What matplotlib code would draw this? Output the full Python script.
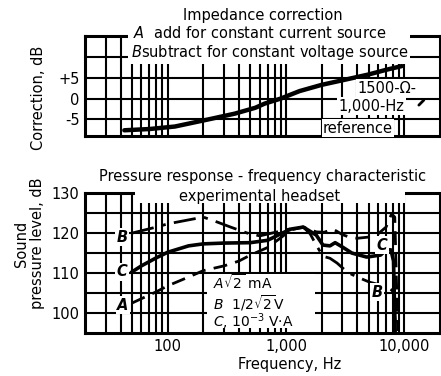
"""
Headset chart: impedance correction (top) and
pressure response vs frequency (bottom).
"""

import matplotlib
matplotlib.use("Agg")
import matplotlib.pyplot as plt
from matplotlib.patches import Rectangle


# ── DATA ─────────────────────────────────────────────────────
# impedance correction, dB (1500 ohm, 1000 Hz reference)
corr_freq = [43, 70, 115, 220, 370, 550, 660, 900, 1300, 2000, 3000, 5000, 7000, 9500]
corr_db = [-7.6, -7.3, -6.7, -5.0, -3.6, -2.2, -1.2, 0.0, 1.8, 3.3, 4.4, 5.8, 6.9, 7.8]

# A: constant current sqrt(2) mA (dashed)
a_freq = [50, 80, 100, 150, 200, 300, 400, 500, 700, 900, 1100, 1400, 1800, 2100,
          2500, 3000, 3500, 4000, 5000, 6000, 7000, 7800, 8300, 8800]
a_spl = [102.5, 105.3, 106.8, 109.0, 110.6, 111.8, 113.0, 114.5, 116.4, 118.8, 120.8, 121.5,
         120.3, 120.2, 121.0, 119.6, 118.9, 118.7, 119.0, 119.8, 121.5, 124.8, 124.0, 95.5]

# B: constant voltage 1/2 sqrt(2) V (dash-dot)
b_freq = [50, 80, 100, 150, 200, 260, 340, 470, 600, 900, 1100, 1400, 1600, 1800,
          2050, 2350, 2700, 3300, 4000, 5100, 6300, 7200, 8000, 8500]
b_spl = [120.0, 121.5, 122.3, 123.3, 124.0, 122.8, 121.5, 120.0, 119.3, 120.5, 121.1, 121.5,
         119.8, 117.0, 114.2, 113.7, 112.5, 110.2, 109.0, 107.7, 107.0, 106.5, 105.5, 95.5]

# C: constant power 10^-3 V.A (solid)
c_freq = [50, 60, 80, 100, 150, 200, 300, 500, 700, 900, 1100, 1400, 1800, 2050,
          2350, 2600, 3000, 3600, 4800, 6300, 7000, 7700, 8100, 8350]
c_spl = [110.3, 111.8, 113.8, 115.2, 116.8, 117.3, 117.5, 117.6, 118.2, 119.8, 121.0, 121.5,
         119.5, 117.0, 116.8, 117.6, 116.5, 115.0, 114.0, 114.5, 115.8, 115.8, 113.0, 95.5]

freq_ticks = [100, 1000, 10000]
freq_labels = ["100", "1,000", "10,000"]
grid_freqs = [m * d for d in (10, 100, 1000) for m in range(3, 10)] + [200, 2000]

corr_ticks = [-5, 0, 5]
corr_labels = ["-5", "0", "+5"]
corr_grid = [10]

spl_ticks = [100, 110, 120, 130]
spl_grid = [105, 115, 125]


# ── STYLE ────────────────────────────────────────────────────
plt.rcParams["font.family"] = ["DejaVu Sans"]
plt.rcParams["font.size"] = 10
plt.rcParams["mathtext.fontset"] = "dejavusans"

fig = plt.figure(figsize=(4.41, 3.76), dpi=100, facecolor="white")
ax1 = fig.add_axes([0.1927, 0.638, 0.805, 0.266])
ax2 = fig.add_axes([0.1927, 0.1144, 0.805, 0.372])


def style_axes(ax):
    ax.set_xscale("log")
    ax.set_xlim(20, 20000)
    ax.set_axisbelow(True)
    for s in ax.spines.values():
        s.set_linewidth(2.2)
        s.set_color("black")
    ax.set_xticks(grid_freqs, minor=True)
    ax.tick_params(which="both", length=0, pad=4, labelsize=10.5)
    ax.grid(which="both", color="black", linewidth=1.5)


def mask(ax, x0, y0, x1, y1):
    ax.add_patch(Rectangle((x0, y0), x1 - x0, y1 - y0, transform=ax.transAxes,
                           facecolor="white", edgecolor="none", zorder=3, clip_on=False))


# ── 1. IMPEDANCE CORRECTION ──────────────────────────────────
style_axes(ax1)
ax1.set_ylim(-9, 15)
ax1.set_xticks(freq_ticks)
ax1.set_xticklabels([])
ax1.set_yticks(corr_ticks)
ax1.set_yticklabels(corr_labels)
ax1.set_yticks(corr_grid, minor=True)

ax1.plot(corr_freq, corr_db, color="black", linewidth=3.2, solid_capstyle="round", zorder=2)

mask(ax1, 0.121, 0.72, 0.915, 1.06)
ax1.text(0.5, 1.21, "Impedance correction", transform=ax1.transAxes,
         ha="center", va="center", fontsize=10.5, zorder=4)
ax1.text(0.493, 1.03, r"$\mathit{A}$  add for constant current source",
         transform=ax1.transAxes, ha="center", va="center", fontsize=10.5, zorder=4)
ax1.text(0.521, 0.84, r"$\mathit{B}$subtract for constant voltage source",
         transform=ax1.transAxes, ha="center", va="center", fontsize=10.5, zorder=4)

box = dict(facecolor="white", edgecolor="none", pad=1.0)
ax1.text(0.851, 0.48, "1500-Ω-", transform=ax1.transAxes, ha="center", va="center",
         fontsize=10.5, bbox=box, zorder=4)
ax1.text(0.808, 0.30, "1,000-Hz", transform=ax1.transAxes, ha="center", va="center",
         fontsize=10.5, bbox=box, zorder=4)
ax1.text(0.769, 0.08, "reference", transform=ax1.transAxes, ha="center", va="center",
         fontsize=10.5, bbox=box, zorder=4)
ax1.annotate("", xy=(0.96, 0.38), xytext=(0.935, 0.29), xycoords="axes fraction",
             arrowprops=dict(arrowstyle="-", lw=2.0, color="black"), zorder=5)

ax1.set_ylabel("Correction, dB", fontsize=10.5)
ax1.yaxis.set_label_coords(-0.110, 0.385)


# ── 2. PRESSURE RESPONSE ─────────────────────────────────────
style_axes(ax2)
ax2.set_ylim(95, 130)
ax2.set_xticks(freq_ticks)
ax2.set_xticklabels(freq_labels)
ax2.set_yticks(spl_ticks)
ax2.set_yticks(spl_grid, minor=True)

ax2.plot(c_freq, c_spl, color="black", linewidth=2.6, zorder=2)
ax2.plot(a_freq, a_spl, color="black", linewidth=2.0, linestyle=(0, (5, 3)), zorder=2)
ax2.plot(b_freq, b_spl, color="black", linewidth=2.0, linestyle=(0, (8, 3, 1.5, 3)), zorder=2)

mask(ax2, 0.141, 0.93, 0.901, 1.04)
ax2.text(0.5, 1.121, "Pressure response - frequency characteristic", transform=ax2.transAxes,
         ha="center", va="center", fontsize=10.5, zorder=4)
ax2.text(0.493, 0.979, "experimental headset", transform=ax2.transAxes,
         ha="center", va="center", fontsize=10.5, zorder=4)

# curve letters
lbl = dict(ha="center", va="center", fontsize=10.5, style="italic", fontweight="bold",
           bbox=box, zorder=4)
ax2.text(41, 119.0, "B", **lbl)
ax2.text(41, 110.3, "C", **lbl)
ax2.text(42, 102.0, "A", **lbl)
ax2.text(6500, 117.0, "C", **lbl)
ax2.text(5900, 105.2, "B", **lbl)

# key
mask(ax2, 0.344, 0.035, 0.648, 0.42)
key = dict(transform=ax2.transAxes, ha="left", va="center", fontsize=10, zorder=4)
ax2.text(0.36, 0.36, r"$\mathit{A}\sqrt{2}$ mA", **key)
ax2.text(0.36, 0.215, r"$\mathit{B}$  1/2$\sqrt{2}$V", **key)
ax2.text(0.36, 0.08, r"$\mathit{C}$, 10$^{-3}$ V·A", **key)

ax2.set_ylabel("Sound\npressure level, dB", fontsize=10.5, linespacing=1.1)
ax2.yaxis.set_label_coords(-0.113, 0.64)
ax2.set_xlabel("Frequency, Hz", fontsize=10.5)
ax2.xaxis.set_label_coords(0.577, -0.17)

fig.savefig("out.png", dpi=100, facecolor="white")
plt.close(fig)
